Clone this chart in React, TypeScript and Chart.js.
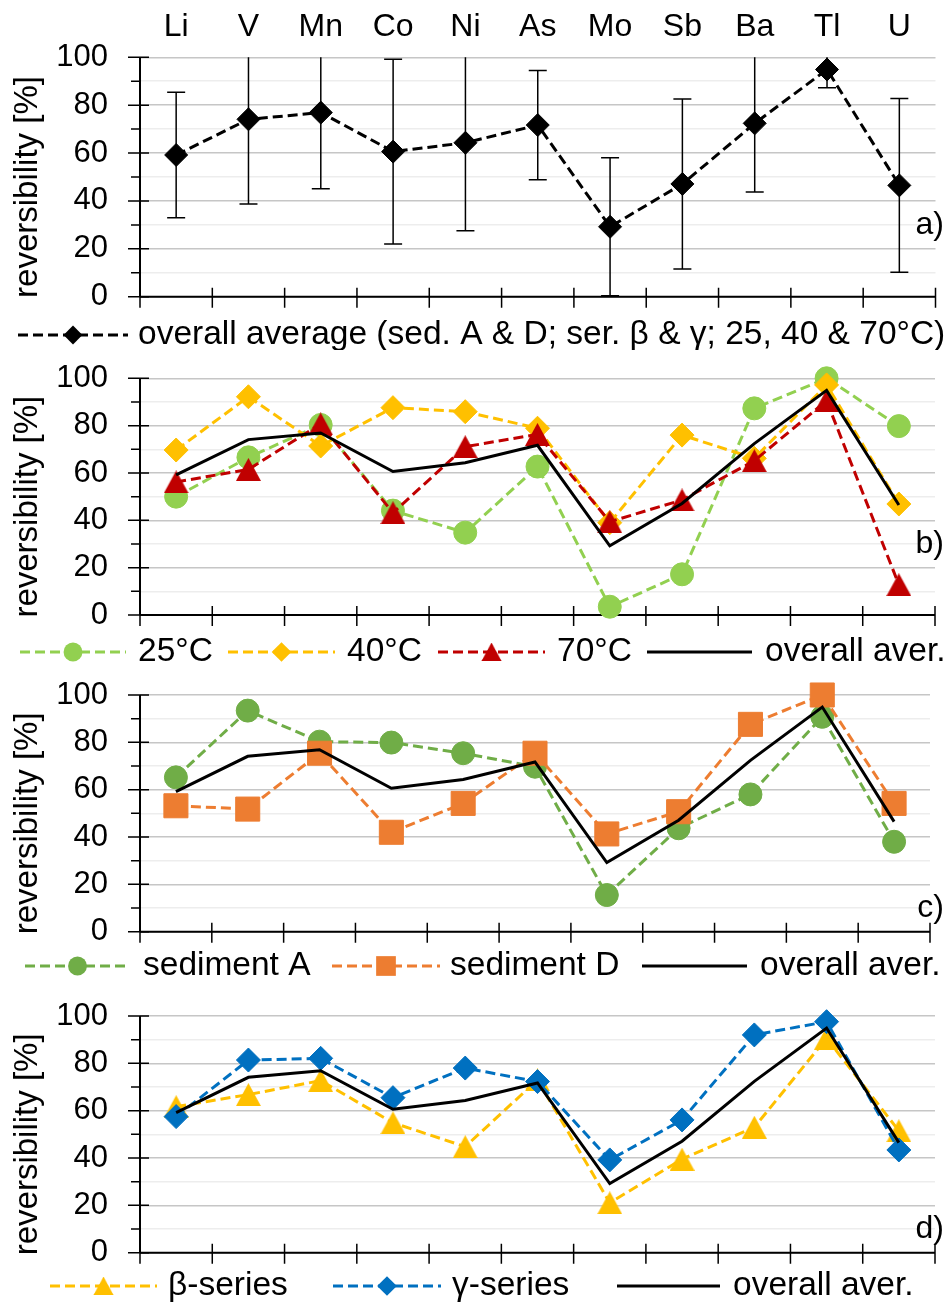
import React, { useEffect, useRef } from 'react';
import { Chart, registerables } from 'chart.js';

Chart.register(...registerables);

// ---------- data ----------
const elements = ['Li', 'V', 'Mn', 'Co', 'Ni', 'As', 'Mo', 'Sb', 'Ba', 'Tl', 'U'];
const overallAverage = [59.2, 74.1, 76.9, 60.6, 64.3, 71.7, 29.2, 47.1, 72.4, 94.9, 46.5];
const overallSd = [26.2, 35.4, 31.8, 38.6, 36.7, 22.8, 28.8, 35.5, 28.7, 7.6, 36.3];
const temp25 = [50.0, 66.6, 80.3, 44.1, 34.8, 62.7, 3.5, 17.2, 87.3, 100, 79.8];
const temp40 = [69.7, 92.2, 71.4, 87.6, 85.9, 78.9, 39.0, 76.0, 66.2, 97.2, 46.9];
const temp70 = [56.2, 61.5, 80.7, 43.2, 71.1, 76.3, 39.4, 48.6, 65.2, 90.5, 12.8];
const sedimentA = [65.2, 93.4, 80.3, 79.9, 75.4, 69.7, 15.5, 43.7, 58.0, 90.8, 38.0];
const sedimentD = [53.2, 51.8, 75.4, 42.0, 54.2, 75.4, 41.3, 50.7, 87.6, 100, 54.2];
const betaSeries = [61.7, 66.8, 72.7, 54.9, 44.8, 73.0, 21.1, 39.5, 53.0, 90.6, 51.5];
const gammaSeries = [57.5, 81.4, 82.1, 65.5, 78.0, 72.3, 39.2, 56.1, 92.0, 97.6, 43.4];
const yMin = 0;
const yMax = 100;
const yMinorStep = 10;
const yMajorStep = 20;
const yTitle = 'reversibility [%]';

const FONT = '"Liberation Sans", Arial, Helvetica, sans-serif';
const FS_TICK = 31;
const FS_TOP = 32;
const FS_TITLE = 33;
const FS_LEGEND = 33.5;
const DASH = [10, 5];

const C_GREEN25 = '#92d050';
const C_YELLOW = '#ffc000';
const C_RED = '#c00000';
const C_GREENA = '#70ad47';
const C_ORANGE = '#ed7d31';
const C_BLUE = '#0070c0';

function makeTriangle(color: string, w: number, h: number) {
  const c = document.createElement('canvas');
  c.width = w;
  c.height = h;
  const g = c.getContext('2d')!;
  g.fillStyle = color;
  g.beginPath();
  g.moveTo(w / 2, 0);
  g.lineTo(w, h);
  g.lineTo(0, h);
  g.closePath();
  g.fill();
  return c;
}

function dashed(label: string, data: number[], color: string, pointStyle: any, radius: number, order: number, width = 3) {
  return {
    label,
    data,
    borderColor: color,
    backgroundColor: color,
    borderWidth: width,
    borderDash: DASH,
    pointStyle,
    pointRadius: radius,
    pointBackgroundColor: color,
    pointBorderColor: color,
    pointBorderWidth: 1,
    tension: 0,
    order,
    clip: false,
  };
}

function solidAverage(label: string) {
  return {
    label,
    data: overallAverage,
    borderColor: '#000',
    backgroundColor: '#000',
    borderWidth: 3,
    pointRadius: 0,
    tension: 0,
    order: 0,
    clip: false,
  };
}

function drawMarker(ctx: CanvasRenderingContext2D, style: any, x: number, y: number, r: number, color: string, k: number) {
  ctx.fillStyle = color;
  if (style && typeof style === 'object') {
    const w = style.width * k;
    const h = style.height * k;
    ctx.drawImage(style, x - w / 2, y - h / 2, w, h);
    return;
  }
  const rr = r * k;
  ctx.beginPath();
  if (style === 'circle') {
    ctx.arc(x, y, rr, 0, Math.PI * 2);
  } else if (style === 'rectRot') {
    ctx.moveTo(x - rr, y);
    ctx.lineTo(x, y - rr);
    ctx.lineTo(x + rr, y);
    ctx.lineTo(x, y + rr);
    ctx.closePath();
  } else if (style === 'rect') {
    const s = rr * Math.SQRT1_2;
    ctx.rect(x - s, y - s, 2 * s, 2 * s);
  }
  ctx.fill();
}

type LegendItem = { label: string; x1: number; x2: number; tx: number };

type PanelCfg = {
  key: string;
  height: number;
  padTop: number;
  topAxisHeight: number;
  bottomAxisHeight: number;
  makeDatasets: () => any[];
  legendY: number;
  legend: LegendItem[];
  tag: string;
  tagValue: number;
  errorBars?: boolean;
};

const panels: PanelCfg[] = [
  {
    key: 'a',
    height: 350,
    padTop: 0,
    topAxisHeight: 57.3,
    bottomAxisHeight: 53.3,
    makeDatasets: () => [
      dashed('overall average (sed. A & D; ser. β & γ; 25, 40 & 70°C)', overallAverage, '#000', 'rectRot', 11.5, 0, 3),
    ],
    legendY: 335,
    legend: [{ label: 'overall average (sed. A & D; ser. β & γ; 25, 40 & 70°C)', x1: 18, x2: 128, tx: 138 }],
    tag: 'a)',
    tagValue: 30,
    errorBars: true,
  },
  {
    key: 'b',
    height: 318,
    padTop: 28.3,
    topAxisHeight: 0,
    bottomAxisHeight: 53,
    makeDatasets: () => [
      solidAverage('overall aver.'),
      dashed('70°C', temp70, C_RED, makeTriangle(C_RED, 25, 23), 12, 1),
      dashed('40°C', temp40, C_YELLOW, 'rectRot', 12, 2),
      dashed('25°C', temp25, C_GREEN25, 'circle', 11.5, 3),
    ],
    legendY: 302,
    legend: [
      { label: '25°C', x1: 20, x2: 126, tx: 138 },
      { label: '40°C', x1: 228, x2: 335, tx: 347 },
      { label: '70°C', x1: 438, x2: 545, tx: 557 },
      { label: 'overall aver.', x1: 647, x2: 752, tx: 765 },
    ],
    tag: 'b)',
    tagValue: 30,
  },
  {
    key: 'c',
    height: 316,
    padTop: 27,
    topAxisHeight: 0,
    bottomAxisHeight: 52.3,
    makeDatasets: () => [
      solidAverage('overall aver.'),
      dashed('sediment D', sedimentD, C_ORANGE, 'rect', 17, 1),
      dashed('sediment A', sedimentA, C_GREENA, 'circle', 11.5, 2),
    ],
    legendY: 298,
    legend: [
      { label: 'sediment A', x1: 25, x2: 130, tx: 143 },
      { label: 'sediment D', x1: 332, x2: 440, tx: 450 },
      { label: 'overall aver.', x1: 642, x2: 747, tx: 760 },
    ],
    tag: 'c)',
    tagValue: 10,
  },
  {
    key: 'd',
    height: 320,
    padTop: 32,
    topAxisHeight: 0,
    bottomAxisHeight: 51.3,
    makeDatasets: () => [
      solidAverage('overall aver.'),
      dashed('γ-series', gammaSeries, C_BLUE, 'rectRot', 12, 1),
      dashed('β-series', betaSeries, C_YELLOW, makeTriangle(C_YELLOW, 25, 23), 12, 2),
    ],
    legendY: 302,
    legend: [
      { label: 'β-series', x1: 50, x2: 157, tx: 168 },
      { label: 'γ-series', x1: 333, x2: 441, tx: 452 },
      { label: 'overall aver.', x1: 617, x2: 720, tx: 733 },
    ],
    tag: 'd)',
    tagValue: 10,
  },
];

function Panel({ cfg }: { cfg: PanelCfg }) {
  const ref = useRef<HTMLCanvasElement>(null);

  useEffect(() => {
    const canvas = ref.current!;
    const datasets = cfg.makeDatasets();

    const decor = {
      id: 'decor' + cfg.key,
      beforeDatasetsDraw(chart: any) {
        const { ctx, chartArea: a, scales } = chart;
        const xs = scales.x;
        const ys = scales.y;
        ctx.save();
        ctx.setLineDash([]);
        ctx.strokeStyle = '#000';
        // error bars
        if (cfg.errorBars) {
          ctx.save();
          ctx.beginPath();
          ctx.rect(a.left, a.top, a.right - a.left, a.bottom - a.top + 2);
          ctx.clip();
          ctx.lineWidth = 1.5;
          ctx.beginPath();
          overallAverage.forEach((m, i) => {
            const x = xs.getPixelForValue(i);
            const yl = ys.getPixelForValue(m - overallSd[i]);
            const yh = ys.getPixelForValue(m + overallSd[i]);
            ctx.moveTo(x, yl);
            ctx.lineTo(x, yh);
            ctx.moveTo(x - 9, yl);
            ctx.lineTo(x + 9, yl);
            ctx.moveTo(x - 9, yh);
            ctx.lineTo(x + 9, yh);
          });
          ctx.stroke();
          ctx.restore();
        }
        // axis lines
        ctx.lineWidth = 2;
        ctx.beginPath();
        ctx.moveTo(a.left, a.top);
        ctx.lineTo(a.left, a.bottom);
        ctx.moveTo(a.left, a.bottom);
        ctx.lineTo(a.right, a.bottom);
        ctx.stroke();
        // tick marks
        ctx.lineWidth = 1.5;
        ctx.beginPath();
        for (let i = 0; i <= elements.length; i++) {
          const x = xs.getPixelForValue(i - 0.5);
          ctx.moveTo(x, a.bottom - 9);
          ctx.lineTo(x, a.bottom + 11);
        }
        ys.ticks.forEach((t: any) => {
          const y = ys.getPixelForValue(t.value);
          if (t.value % yMajorStep === 0) {
            ctx.moveTo(a.left - 12, y);
            ctx.lineTo(a.left + 9, y);
          } else {
            ctx.moveTo(a.left - 9, y);
            ctx.lineTo(a.left, y);
          }
        });
        ctx.stroke();
        ctx.restore();
      },
      afterDraw(chart: any) {
        const { ctx, chartArea: a, scales } = chart;
        const ys = scales.y;
        ctx.save();
        ctx.fillStyle = '#000';
        // y title
        ctx.save();
        ctx.font = `${FS_TITLE}px ${FONT}`;
        ctx.translate(28, (a.top + a.bottom) / 2 + 10);
        ctx.rotate(-Math.PI / 2);
        ctx.textAlign = 'center';
        ctx.textBaseline = 'middle';
        ctx.fillText(yTitle, 0, 0);
        ctx.restore();
        // panel tag
        ctx.font = `${FS_TOP}px ${FONT}`;
        ctx.textAlign = 'right';
        ctx.textBaseline = 'middle';
        ctx.fillText(cfg.tag, 944, ys.getPixelForValue(cfg.tagValue));
        // legend
        ctx.font = `${FS_LEGEND}px ${FONT}`;
        cfg.legend.forEach((item) => {
          const ds = chart.data.datasets.find((d: any) => d.label === item.label);
          if (!ds) return;
          const y = cfg.legendY;
          ctx.save();
          ctx.strokeStyle = ds.borderColor;
          ctx.lineWidth = ds.borderWidth;
          ctx.setLineDash(ds.borderDash || []);
          ctx.beginPath();
          ctx.moveTo(item.x1, y);
          ctx.lineTo(item.x2, y);
          ctx.stroke();
          ctx.setLineDash([]);
          if (ds.pointRadius > 0) {
            drawMarker(ctx, ds.pointStyle, (item.x1 + item.x2) / 2, y, ds.pointRadius, ds.pointBackgroundColor, 0.82);
          }
          ctx.restore();
          ctx.fillStyle = '#000';
          ctx.textAlign = 'left';
          ctx.textBaseline = 'middle';
          ctx.fillText(item.label, item.tx, y);
        });
        ctx.restore();
      },
    };

    const scales: any = {
      x: {
        type: 'category',
        labels: elements,
        offset: true,
        position: 'bottom',
        grid: { display: false, drawTicks: false },
        border: { display: false },
        ticks: { display: false },
        afterFit: (s: any) => {
          s.height = cfg.bottomAxisHeight;
          s.paddingLeft = 0;
          s.paddingRight = 0;
        },
      },
      y: {
        type: 'linear',
        min: yMin,
        max: yMax,
        position: 'left',
        grid: {
          drawTicks: false,
          lineWidth: 1.5,
          color: (c: any) => (c.tick && c.tick.value % yMajorStep === 0 ? '#c6c6c6' : '#ededed'),
        },
        border: { display: false },
        ticks: {
          stepSize: yMinorStep,
          autoSkip: false,
          padding: 32,
          color: '#000',
          font: { family: FONT, size: FS_TICK },
          callback: (v: any) => (Number(v) % yMajorStep === 0 ? String(v) : ''),
        },
        afterFit: (s: any) => {
          s.width = 140;
          s.paddingTop = 0;
          s.paddingBottom = 0;
        },
      },
    };
    if (cfg.topAxisHeight > 0) {
      scales.x2 = {
        type: 'category',
        labels: elements,
        offset: true,
        position: 'top',
        grid: { display: false, drawTicks: false },
        border: { display: false },
        ticks: {
          color: '#000',
          font: { family: FONT, size: FS_TOP },
          padding: 11,
          autoSkip: false,
          maxRotation: 0,
          minRotation: 0,
        },
        afterFit: (s: any) => {
          s.height = cfg.topAxisHeight;
          s.paddingLeft = 0;
          s.paddingRight = 0;
        },
      };
    }

    const chart = new Chart(canvas, {
      type: 'line',
      data: { labels: elements, datasets },
      options: {
        responsive: false,
        animation: false,
        events: [],
        layout: { padding: { top: cfg.padTop, right: 10, left: 0, bottom: 0 } },
        plugins: { legend: { display: false }, tooltip: { enabled: false } },
        scales,
      },
      plugins: [decor],
    } as any);

    return () => chart.destroy();
  }, [cfg]);

  return <canvas ref={ref} width={948} height={cfg.height} style={{ display: 'block' }} />;
}

export default function App() {
  return (
    <div style={{ position: 'absolute', left: 0, top: 0, width: 948, height: 1304, background: '#fff' }}>
      {panels.map((p) => (
        <Panel key={p.key} cfg={p} />
      ))}
    </div>
  );
}
